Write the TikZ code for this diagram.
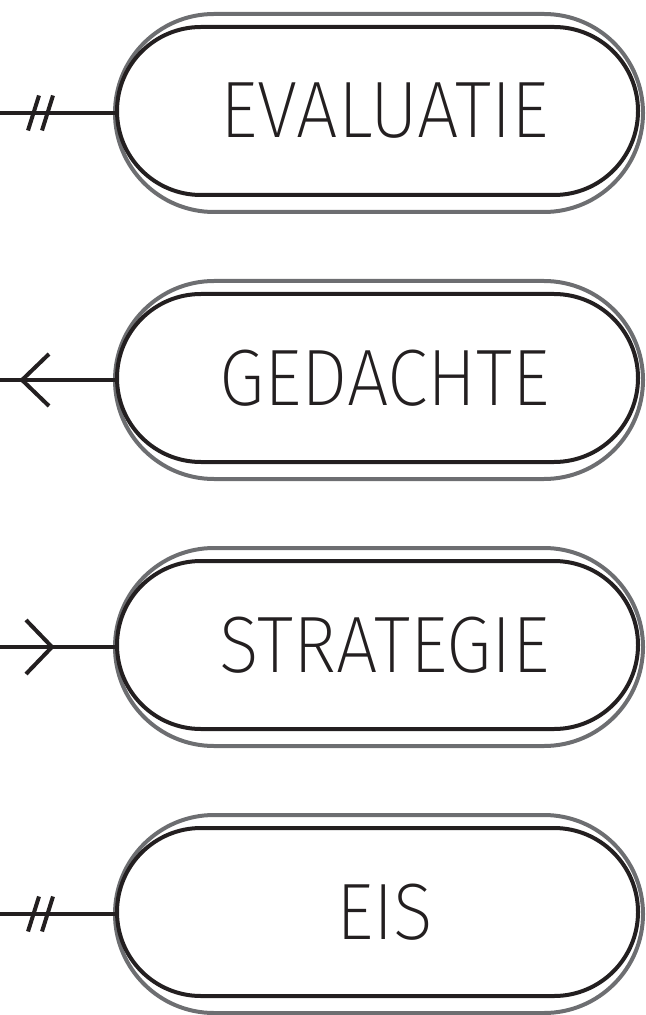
\documentclass[tikz,border=0pt]{standalone}
\usepackage{fontspec}
\setmainfont{Fira Sans ExtraLight}[FakeStretch=0.92]
\usepackage{xcolor}
\usepackage{tikz}
\usetikzlibrary{positioning}
\usetikzlibrary{backgrounds}
\usetikzlibrary{decorations.markings}
\definecolor{inkblack}{HTML}{231F20}
\definecolor{rimgray}{HTML}{6D6E71}
\tikzset{
  entity/.style={
    draw=inkblack, line width=2pt, rectangle, rounded corners=42pt,
    minimum width=260.5pt, minimum height=84pt, outer sep=0pt,
    text=inkblack, font=\fontsize{40}{40}\selectfont,
    execute at begin node=\hspace*{7pt},
  },
  rim/.style={
    draw=rimgray, line width=2pt, rectangle, rounded corners=49.5pt,
    minimum width=264pt, minimum height=99pt, outer sep=0pt,
  },
  link/.style={draw=inkblack, line width=2pt},
  one edge/.style={
    decoration={
      markings,
      mark=at position 16.75pt with {\draw[link] (-2.75pt,-8.75pt) -- (2.75pt,8.75pt);},
      mark=at position 23.75pt with {\draw[link] (-2.75pt,-8.75pt) -- (2.75pt,8.75pt);},
    },
    postaction={decorate},
  },
  many out edge/.style={
    decoration={
      markings,
      mark=at position 11pt with {\draw[link] (13.5pt,13pt) -- (0,0) -- (13.5pt,-13pt);},
    },
    postaction={decorate},
  },
  many in edge/.style={
    decoration={
      markings,
      mark=at position 26pt with {\draw[link] (-13pt,13.5pt) -- (0,0) -- (-13pt,-13.5pt);},
    },
    postaction={decorate},
  },
}

\begin{document}
\begin{tikzpicture}[x=0.5pt, y=-0.5pt, node distance=49.5pt]
  \useasboundingbox (0,0) rectangle (646,1015);

  % Define nodes
  \node[entity] (eval) at (377.5,111) {EVALUATIE};
  \node[entity, below=of eval] (idea) {GEDACHTE};
  \node[entity, below=of idea] (strat) {STRATEGIE};
  \node[entity, below=of strat] (eis) {EIS};

  % Rims
  \begin{scope}[on background layer]
    \node[rim] (eval-rim) at ([shift={(0.75pt,-1pt)}]eval.center) {};
    \node[rim] (idea-rim) at ([shift={(0.75pt,-1pt)}]idea.center) {};
    \node[rim] (strat-rim) at ([shift={(0.75pt,-1pt)}]strat.center) {};
    \node[rim] (eis-rim) at ([shift={(0.75pt,-1pt)}]eis.center) {};
  \end{scope}

  % Loose ends
  \coordinate (eval-end) at ([xshift=-57.5pt]eval-rim.west);
  \coordinate (idea-end) at ([xshift=-57.5pt]idea-rim.west);
  \coordinate (strat-end) at ([xshift=-57.5pt]strat-rim.west);
  \coordinate (eis-end) at ([xshift=-57.5pt]eis-rim.west);

  % Connect nodes
  \draw[link, one edge] (eval-end) -- (eval-rim.west);
  \draw[link, many out edge] (idea-end) -- (idea-rim.west);
  \draw[link, many in edge] (strat-end) -- (strat-rim.west);
  \draw[link, one edge] (eis-end) -- (eis-rim.west);

\end{tikzpicture}
\end{document}
